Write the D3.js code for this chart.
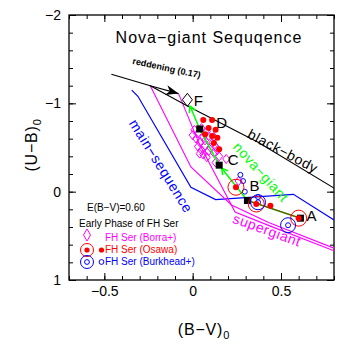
<!DOCTYPE html>
<html>
<head>
<meta charset="utf-8">
<script src="https://cdn.jsdelivr.net/npm/d3@7"></script>
<style>
  body { margin: 0; background: #fff; }
  text { font-family: "Liberation Sans", Arial, sans-serif; }
</style>
</head>
<body>
<div id="chart"></div>
<script>
// (B-V)0 vs (U-B)0 two-colour diagram, nova-giant sequence

const width = 361, height = 345;
const margin = {top: 15, right: 27, bottom: 65, left: 69};

// tick values
const xMajor = [-0.5, 0, 0.5];
const yMajor = [-2, -1, 0, 1];

// reference sequences as [B-V, U-B]
const blackBody = [[-0.46, -1.33], [-0.24, -1.20], [-0.04, -0.98], [0.37, -0.56], [0.80, -0.04]];
const mainSequence = [[-0.345, -1.15], [-0.31, -1.08], [-0.01, -0.05], [0.13, 0.09], [0.57, 0.03], [0.80, 0.32]];
const superGiant = [[-0.24, -1.20], [-0.01, -0.28], [0.22, 0.15], [0.43, 0.35], [0.80, 0.64]];
const superGiantShift = [[-0.08, -1.11], [0.04, -0.53], [0.24, 0.23], [0.44, 0.39], [0.80, 0.67]];
const reddening = [[-0.24, -1.20], [-0.08, -1.11]];

// nova-giant sequence stages
const trackNames = ["A", "B", "C", "D", "F"];
const trackBV = [0.61, 0.31, 0.15, 0.04, -0.03];
const trackUB = [0.30, 0.10, -0.30, -0.71, -1.04];

// FH Ser photometry
const borra = [[0.01, -0.70], [0.03, -0.66], [0.05, -0.72], [0.02, -0.60], [0.04, -0.56], [0.06, -0.62],
  [0.08, -0.68], [0.07, -0.58], [0.09, -0.63], [0.03, -0.51], [0.05, -0.47], [0.07, -0.52], [0.09, -0.46],
  [0.11, -0.55], [0.12, -0.62], [0.10, -0.50], [0.13, -0.51], [0.06, -0.42], [0.08, -0.39], [0.04, -0.43],
  [0.12, -0.44], [0.15, -0.40], [0.00, -0.64], [0.14, -0.47], [0.13, -0.33], [0.19, -0.37], [0.26, -0.12]];
const osawa = [[0.06, -0.81], [0.11, -0.81], [0.09, -0.72], [0.13, -0.70], [0.07, -0.65], [0.11, -0.63],
  [0.14, -0.61], [0.12, -0.55], [0.15, -0.48], [0.44, 0.16]];
const osawaEarly = [[0.245, -0.05], [0.36, 0.14], [0.60, 0.30]];
const burkhead = [[0.27, -0.19], [0.285, -0.12], [0.295, 0.00], [0.37, 0.06]];
const burkheadEarly = [[0.37, 0.12], [0.54, 0.38]];

const legendItems = ["FH Ser (Borra+)", "FH Ser (Osawa)", "FH Ser (Burkhead+)"];

const svg = d3
  .select("#chart")
  .append("svg")
  .attr("width", width)
  .attr("height", height);

const xScale = d3.scaleLinear()
  .domain([-0.7, 0.8])
  .range([margin.left, width - margin.right]);

const yScale = d3.scaleLinear()
  .domain([-2, 1])
  .range([margin.top, height - margin.bottom]);

const line = d3.line()
  .x(d => xScale(d[0]))
  .y(d => yScale(d[1]));

svg.append("clipPath").attr("id", "plot-area")
  .append("rect")
  .attr("x", margin.left).attr("y", margin.top)
  .attr("width", width - margin.left - margin.right)
  .attr("height", height - margin.top - margin.bottom);

// ---- axes, ticks pointing inwards on every side ----
const xMinor = d3.range(-0.7, 0.81, 0.1);
const yMinor = d3.range(-2, 1.01, 0.2);
const fmt = d3.format("~g");

function styleAxis(g) {
  g.select(".domain").remove();
  g.selectAll(".tick line").attr("stroke", "#000");
  g.selectAll("text").attr("font-size", "14px").attr("fill", "#000")
    .attr("font-family", "Liberation Sans, Arial, sans-serif");
}

const bottom = height - margin.bottom, right = width - margin.right;

svg.append("g").attr("transform", `translate(0,${bottom})`)
  .call(d3.axisBottom(xScale).tickValues(xMinor).tickSize(-4).tickFormat("")).call(styleAxis);
svg.append("g").attr("transform", `translate(0,${bottom})`)
  .call(d3.axisBottom(xScale).tickValues(xMajor).tickSize(-7).tickPadding(6).tickFormat(fmt)).call(styleAxis);
svg.append("g").attr("transform", `translate(0,${margin.top})`)
  .call(d3.axisTop(xScale).tickValues(xMinor).tickSize(-4).tickFormat("")).call(styleAxis);
svg.append("g").attr("transform", `translate(0,${margin.top})`)
  .call(d3.axisTop(xScale).tickValues(xMajor).tickSize(-7).tickFormat("")).call(styleAxis);

svg.append("g").attr("transform", `translate(${margin.left},0)`)
  .call(d3.axisLeft(yScale).tickValues(yMinor).tickSize(-4).tickFormat("")).call(styleAxis);
svg.append("g").attr("transform", `translate(${margin.left},0)`)
  .call(d3.axisLeft(yScale).tickValues(yMajor).tickSize(-7).tickPadding(8).tickFormat(fmt)).call(styleAxis);
svg.append("g").attr("transform", `translate(${right},0)`)
  .call(d3.axisRight(yScale).tickValues(yMinor).tickSize(-4).tickFormat("")).call(styleAxis);
svg.append("g").attr("transform", `translate(${right},0)`)
  .call(d3.axisRight(yScale).tickValues(yMajor).tickSize(-7).tickFormat("")).call(styleAxis);

svg.append("rect")
  .attr("x", margin.left).attr("y", margin.top)
  .attr("width", right - margin.left).attr("height", bottom - margin.top)
  .attr("fill", "none").attr("stroke", "#000").attr("stroke-width", 1.3);

// axis titles
svg.append("text")
  .attr("x", 204).attr("y", 335)
  .attr("text-anchor", "middle").attr("font-size", "16px").attr("letter-spacing", "0.8px")
  .text("(B−V)")
  .append("tspan").attr("dy", 4).attr("font-size", "11px").text("0");

svg.append("text")
  .attr("transform", "translate(37,145) rotate(-90)")
  .attr("text-anchor", "middle").attr("font-size", "16px").attr("letter-spacing", "0.8px")
  .text("(U−B)")
  .append("tspan").attr("dy", 4).attr("font-size", "11px").text("0");

svg.append("text")
  .attr("x", 209).attr("y", 43)
  .attr("text-anchor", "middle").attr("font-size", "16px")
  .attr("letter-spacing", "1px")
  .text("Nova−giant Sequqence");

// ---- sequences ----
const plot = svg.append("g").attr("clip-path", "url(#plot-area)");

plot.append("path").datum(mainSequence)
  .attr("d", line).attr("fill", "none").attr("stroke", "#0000ff").attr("stroke-width", 1.2);

plot.append("path").datum(superGiant)
  .attr("d", line).attr("fill", "none").attr("stroke", "#ff00ff").attr("stroke-width", 1.1);
plot.append("path").datum(superGiantShift)
  .attr("d", line).attr("fill", "none").attr("stroke", "#ff00ff").attr("stroke-width", 1.1);

plot.append("path").datum(blackBody)
  .attr("d", line).attr("fill", "none").attr("stroke", "#000").attr("stroke-width", 1.1);

// pixel helpers for arrows
function px(d) { return [xScale(d[0]), yScale(d[1])]; }

function pullBack(p0, p1, dist) {
  const dx = p1[0] - p0[0], dy = p1[1] - p0[1];
  const len = Math.hypot(dx, dy);
  return [p1[0] - dx / len * dist, p1[1] - dy / len * dist];
}

// open V head at p1, coming from p0
function vHead(g, p0, p1, size, color) {
  const a = Math.atan2(p1[1] - p0[1], p1[0] - p0[0]);
  const pts = [a + Math.PI * 5 / 6, a - Math.PI * 5 / 6].map(t => [p1[0] + size * Math.cos(t), p1[1] + size * Math.sin(t)]);
  g.append("path")
    .attr("d", `M${pts[0]}L${p1}L${pts[1]}`)
    .attr("fill", "none").attr("stroke", color).attr("stroke-width", 1.5);
}

// reddening vector with a filled, notched head
const r0 = px(reddening[0]), r1 = px(reddening[1]);
plot.append("line")
  .attr("x1", r0[0]).attr("y1", r0[1]).attr("x2", r1[0]).attr("y2", r1[1])
  .attr("stroke", "#000").attr("stroke-width", 1.1);
{
  const a = Math.atan2(r1[1] - r0[1], r1[0] - r0[0]);
  const back = (l, w) => [r1[0] - l * Math.cos(a) - w * Math.sin(a), r1[1] - l * Math.sin(a) + w * Math.cos(a)];
  plot.append("path")
    .attr("d", `M${r1}L${back(13, 5)}L${back(9, 0)}L${back(13, -5)}Z`)
    .attr("fill", "#000");
}

svg.append("text")
  .attr("transform", "translate(166,71) rotate(12)")
  .attr("text-anchor", "middle").attr("font-size", "9px").attr("font-weight", "bold")
  .text("reddening (0.17)");

// ---- FH Ser points ----
const diamond = (w, h) => `M0,${-h}L${w},0L0,${h}L${-w},0Z`;

plot.selectAll(".borra")
  .data(borra).enter()
  .append("path")
    .attr("class", "borra")
    .attr("transform", d => `translate(${xScale(d[0])},${yScale(d[1])})`)
    .attr("d", diamond(3.5, 4.5))
    .attr("fill", "none").attr("stroke", "#ff00ff").attr("stroke-width", 1);

plot.selectAll(".burkhead")
  .data(burkhead.concat(burkheadEarly)).enter()
  .append("circle")
    .attr("class", "burkhead")
    .attr("cx", d => xScale(d[0])).attr("cy", d => yScale(d[1])).attr("r", 2.5)
    .attr("fill", "none").attr("stroke", "#0000ff").attr("stroke-width", 1);

// nova-giant track: A -> B, then arrows B -> C and C -> D -> F
const tp = trackBV.map((b, i) => px([b, trackUB[i]]));
const track = plot.append("g");

track.append("line")
  .attr("x1", tp[0][0]).attr("y1", tp[0][1]).attr("x2", tp[1][0]).attr("y2", tp[1][1])
  .attr("stroke", "#00c000").attr("stroke-width", 1.6);
track.append("line")
  .attr("x1", tp[0][0]).attr("y1", tp[0][1]).attr("x2", tp[1][0]).attr("y2", tp[1][1])
  .attr("stroke", "#b02000").attr("stroke-width", 0.8);

const cTip = pullBack(tp[1], tp[2], 4);
track.append("line")
  .attr("x1", tp[1][0]).attr("y1", tp[1][1]).attr("x2", cTip[0]).attr("y2", cTip[1])
  .attr("stroke", "#00ff00").attr("stroke-width", 1.5);
vHead(track, tp[1], cTip, 7, "#00ff00");

const fTip = pullBack(tp[3], tp[4], 7);
track.append("path")
  .attr("d", `M${tp[2]}L${tp[3]}L${fTip}`)
  .attr("fill", "none").attr("stroke", "#00ff00").attr("stroke-width", 1.5);
vHead(track, tp[3], fTip, 7, "#00ff00");

// stage markers
plot.selectAll(".stage")
  .data(tp.slice(0, 4)).enter()
  .append("rect")
    .attr("class", "stage")
    .attr("x", d => d[0] - 3.5).attr("y", d => d[1] - 3.5)
    .attr("width", 7).attr("height", 7)
    .attr("fill", "#000");

plot.append("path")
  .attr("transform", `translate(${tp[4][0]},${tp[4][1]})`)
  .attr("d", diamond(5, 6.5))
  .attr("fill", "none").attr("stroke", "#000").attr("stroke-width", 1);

plot.selectAll(".osawa")
  .data(osawa.concat(osawaEarly)).enter()
  .append("circle")
    .attr("class", "osawa")
    .attr("cx", d => xScale(d[0])).attr("cy", d => yScale(d[1])).attr("r", 3)
    .attr("fill", "#ff0000");

plot.selectAll(".osawa-ring")
  .data(osawaEarly).enter()
  .append("circle")
    .attr("class", "osawa-ring")
    .attr("cx", d => xScale(d[0])).attr("cy", d => yScale(d[1])).attr("r", 8)
    .attr("fill", "none").attr("stroke", "#ff0000").attr("stroke-width", 1);

plot.selectAll(".burkhead-ring")
  .data(burkheadEarly).enter()
  .append("circle")
    .attr("class", "burkhead-ring")
    .attr("cx", d => xScale(d[0])).attr("cy", d => yScale(d[1])).attr("r", 7.5)
    .attr("fill", "none").attr("stroke", "#0000ff").attr("stroke-width", 1);

// stage letters
const letterOffset = [[11, -2], [7, -15], [14, -5], [22, -6], [11, 1]];
svg.selectAll(".stage-label")
  .data(trackNames).enter()
  .append("text")
    .attr("class", "stage-label")
    .attr("x", (d, i) => tp[i][0] + letterOffset[i][0])
    .attr("y", (d, i) => tp[i][1] + letterOffset[i][1])
    .attr("dy", "0.35em")
    .attr("text-anchor", "middle").attr("font-size", "15px")
    .text(d => d);

// sequence names along the curves
function curveLabel(text, cx, cy, angle, color) {
  svg.append("text")
    .attr("transform", `translate(${cx},${cy}) rotate(${angle})`)
    .attr("text-anchor", "middle").attr("dy", "0.35em")
    .attr("font-size", "14px").attr("letter-spacing", "0.6px")
    .attr("fill", color)
    .text(text);
}
curveLabel("main−sequence", 161, 166, 58, "#0000ff");
curveLabel("black−body", 283, 151, 28, "#000");
curveLabel("nova−giant", 261, 172, 48, "#00ff00");
curveLabel("supergiant", 267, 230, 20, "#ff00ff");

// ---- legend ----
const legend = svg.append("g").attr("font-size", "10px");

legend.append("text").attr("x", 87).attr("y", 211).text("E(B−V)=0.60");
legend.append("text").attr("x", 79).attr("y", 227).text("Early Phase of FH Ser");

legend.append("path")
  .attr("transform", "translate(87,235)")
  .attr("d", diamond(3.5, 6))
  .attr("fill", "none").attr("stroke", "#ff00ff").attr("stroke-width", 1);

legend.append("circle").attr("cx", 87).attr("cy", 250).attr("r", 6.5)
  .attr("fill", "none").attr("stroke", "#ff0000").attr("stroke-width", 1);
legend.append("circle").attr("cx", 87).attr("cy", 250).attr("r", 2.6).attr("fill", "#ff0000");
legend.append("circle").attr("cx", 101.5).attr("cy", 250).attr("r", 2.6).attr("fill", "#ff0000");

legend.append("circle").attr("cx", 87).attr("cy", 262).attr("r", 6.5)
  .attr("fill", "none").attr("stroke", "#0000ff").attr("stroke-width", 1);
legend.append("circle").attr("cx", 87).attr("cy", 262).attr("r", 2.4)
  .attr("fill", "none").attr("stroke", "#0000ff").attr("stroke-width", 1);
legend.append("circle").attr("cx", 101.5).attr("cy", 262).attr("r", 2.4)
  .attr("fill", "none").attr("stroke", "#0000ff").attr("stroke-width", 1);

const legendColors = ["#ff00ff", "#ff0000", "#0000ff"];
legend.selectAll(".item")
  .data(legendItems).enter()
  .append("text")
    .attr("class", "item")
    .attr("x", 105)
    .attr("y", (d, i) => 241 + i * 12)
    .attr("fill", (d, i) => legendColors[i])
    .text(d => d);
</script>
</body>
</html>
